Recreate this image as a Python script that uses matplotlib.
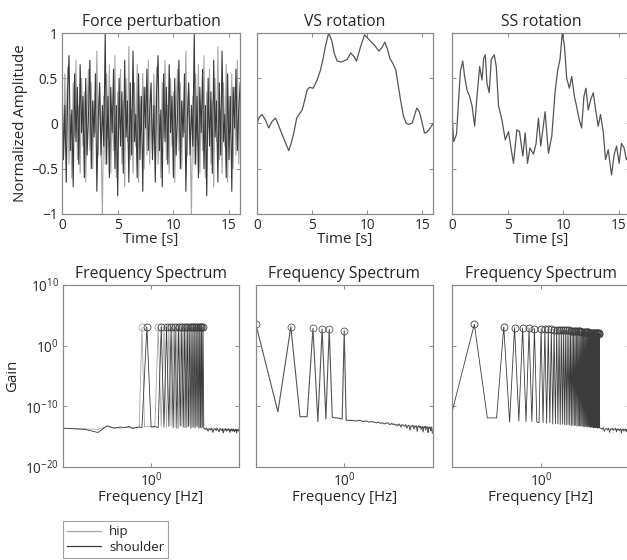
import numpy as np
import matplotlib
matplotlib.use('Agg')
import matplotlib.pyplot as plt
from matplotlib.lines import Line2D

plt.rcParams['font.family'] = ['Open Sans', 'DejaVu Sans']
plt.rcParams['mathtext.fontset'] = 'custom'
plt.rcParams['mathtext.rm'] = 'Open Sans'
plt.rcParams['mathtext.it'] = 'Open Sans:italic'
plt.rcParams['axes.unicode_minus'] = True

# ---------------- data ----------------
series_names = ['hip', 'shoulder']
top_titles = ['Force perturbation', 'VS rotation', 'SS rotation']
bottom_title = 'Frequency Spectrum'
time_ticks = [0, 5, 10, 15]
amp_ticks = [-1, -0.5, 0, 0.5, 1]
amp_ticklabels = ['\u22121', '\u22120.5', '0', '0.5', '1']
gain_ticks = [1e-20, 1e-10, 1e0, 1e10]
gain_ticklabels = [r'$10^{-20}$', r'$10^{-10}$', r'$10^{0}$', r'$10^{10}$']
freq_ticks = [1e0]
freq_ticklabels = [r'$10^{0}$']

# force perturbation: one 8 s period sampled every 0.125 s (signal repeats)
force_dt = 0.125
hip_force_cycle = [0.30, -0.35, 0.55, -0.20, 0.62, -0.45, 0.10, -0.60, 0.45, -0.15,
                   0.70, -0.40, 0.20, -0.55, 0.50, -0.25, 0.35, -0.65, 0.15, 0.60,
                   -0.30, 0.45, -0.50, 0.25, -0.10, 0.80, -0.35, 0.40, -0.20, -1.00,
                   0.30, -0.45, 0.55, -0.15, 0.65, -0.55, 0.20, -0.30, 0.75, -0.60,
                   0.35, -0.05, 0.60, -0.45, 0.25, -0.70, 0.50, -0.20, 0.85, -0.40,
                   0.15, -0.55, 0.45, -0.25, 0.65, -0.65, 0.30, -0.10, 0.55, -0.50,
                   0.40, -0.35, 0.70, -0.45]
shoulder_force_cycle = [0.45, -0.40, 0.20, -0.65, 0.35, 0.75, -0.30, 0.15, -0.70, 0.55,
                        -0.20, 0.40, -0.45, 0.65, -0.10, 0.30, -0.60, 0.50, -0.35, 0.10,
                        0.70, -0.50, 0.25, -0.15, 0.55, -0.75, 0.05, 0.45, -0.35, 0.20,
                        -0.25, 1.00, -0.45, 0.30, -0.60, 0.40, -0.10, 0.60, -0.50, 0.20,
                        -0.80, 0.50, -0.25, 0.35, -0.55, 0.70, -0.15, 0.25, -0.65, 0.45,
                        -0.35, 0.80, -0.20, 0.10, -0.60, 0.55, -0.40, 0.30, -0.75, 0.40,
                        -0.05, 0.60, -0.30, 0.15]
hip_force = hip_force_cycle + hip_force_cycle + hip_force_cycle[:1]
shoulder_force = shoulder_force_cycle + shoulder_force_cycle + shoulder_force_cycle[:1]

vs_time = [0.0, 0.2, 0.45, 0.75, 1.06, 1.35, 1.67, 1.95, 2.27, 2.6, 2.88, 3.1, 3.33,
           3.6, 4.1, 4.35, 4.55, 4.76, 5.1, 5.45, 5.76, 6.0, 6.2, 6.5, 6.8, 7.0, 7.27,
           7.6, 7.88, 8.2, 8.5, 8.8, 9.03, 9.4, 9.76, 10.3, 10.7, 11.06, 11.35, 11.6,
           11.85, 12.06, 12.35, 12.6, 13.03, 13.3, 13.55, 13.8, 14.1, 14.3, 14.5,
           14.7, 14.85, 15.2, 15.4, 15.6, 16.0]
vs_value = [0.0, 0.07, 0.10, 0.04, -0.05, 0.02, 0.06, -0.02, -0.12, -0.22, -0.30,
            -0.22, -0.105, 0.06, 0.15, 0.27, 0.37, 0.40, 0.39, 0.48, 0.59, 0.72, 0.85,
            1.0, 0.91, 0.78, 0.69, 0.68, 0.69, 0.71, 0.78, 0.74, 0.69, 0.85, 0.98,
            0.91, 0.86, 0.80, 0.84, 0.90, 0.82, 0.72, 0.66, 0.59, 0.26, 0.08, 0.0,
            -0.01, 0.006, 0.09, 0.17, 0.14, 0.08, -0.105, -0.10, -0.07, 0.0]

ss_time = [0.0, 0.15, 0.4, 0.75, 0.96, 1.13, 1.34, 1.58, 1.8, 2.03, 2.24, 2.48, 2.69,
           2.84, 2.99, 3.13, 3.34, 3.52, 3.79, 3.97, 4.18, 4.48, 4.78, 5.07, 5.37,
           5.52, 5.82, 6.06, 6.36, 6.57, 6.78, 7.0, 7.31, 7.55, 7.76, 7.97, 8.36,
           8.66, 8.96, 9.25, 9.49, 9.7, 9.9, 10.09, 10.3, 10.54, 10.75, 10.99, 11.19,
           11.43, 11.64, 11.85, 12.03, 12.24, 12.45, 12.69, 12.9, 13.13, 13.34, 13.58,
           13.79, 14.03, 14.33, 14.57, 14.78, 15.01, 15.22, 15.46, 15.67, 16.0]
ss_value = [0.10, -0.20, -0.12, 0.58, 0.69, 0.52, 0.37, 0.30, 0.19, -0.03, 0.30, 0.63,
            0.48, 0.72, 0.76, 0.45, 0.34, 0.71, 0.76, 0.63, 0.19, 0.04, -0.18, -0.09,
            -0.33, -0.44, -0.07, -0.09, -0.36, -0.105, -0.44, -0.27, -0.34, -0.22, 0.06,
            -0.25, 0.13, -0.33, -0.14, 0.34, 0.59, 0.71, 1.0, 0.87, 0.50, 0.39, 0.52,
            0.30, 0.19, 0.04, -0.05, 0.30, 0.39, 0.15, 0.26, 0.34, 0.15, -0.03, 0.10,
            -0.09, -0.40, -0.29, -0.57, -0.34, -0.25, -0.44, -0.22, -0.27, -0.40, -0.30]

# spectra: frequency bins (resolution 1/16 Hz) and log10 gain
freq_resolution = 1.0 / 16.0

hip_peak_bins = [12, 20, 24, 28, 32, 36, 40, 44, 48, 52, 56, 60, 64, 68, 72, 76, 80]
hip_peak_gain = [3.1, 3.1, 3.05, 3.1, 3.1, 3.08, 3.1, 3.1, 3.1, 3.05, 3.1, 3.1, 3.1,
                 3.08, 3.1, 3.1, 3.1]
hip_floor_bins = [1, 2, 3, 4, 5, 6, 7, 8, 9, 10, 11, 13, 16, 18, 22, 26, 30, 34, 38,
                  42, 46, 50, 54, 58, 62, 66, 70, 74, 78, 82,
                  86, 90, 94, 98, 102, 106, 110, 114, 118, 122, 126, 130, 134, 138,
                  142, 146, 150, 154, 158, 162, 166, 170, 174, 178, 182, 186, 190,
                  194, 198, 202, 206, 210, 214, 218, 222, 226, 230, 234, 238, 242,
                  246, 250, 254]
hip_floor_gain = [-13.6, -13.7, -13.8, -13.3, -13.5, -13.6, -13.4, -13.5, -13.7, -13.4,
                  -13.5, -13.4, -13.3, -13.5, -13.3, -13.5, -13.2, -13.4, -13.6, -13.3,
                  -13.5, -13.4, -13.2, -13.5, -13.6, -13.3, -13.4, -13.5, -13.6, -13.5,
                  -13.7, -13.5, -14.0, -13.6, -13.8, -13.5, -14.2, -13.7, -13.6, -13.9,
                  -13.5, -13.8, -14.1, -13.6, -13.7, -13.9, -13.6, -14.3, -13.7, -13.8,
                  -13.6, -14.0, -13.7, -13.9, -13.6, -13.8, -14.2, -13.7, -13.9, -13.6,
                  -14.0, -13.8, -13.7, -14.1, -13.8, -13.9, -13.7, -14.3, -13.8, -13.9,
                  -13.7, -14.0, -13.8]

shoulder_peak_bins = [14, 22, 26, 30, 34, 38, 42, 46, 50, 54, 58, 62, 66, 70, 74, 78, 82]
shoulder_peak_gain = [3.1, 3.1, 3.1, 3.08, 3.1, 3.1, 3.1, 3.05, 3.1, 3.1, 3.1, 3.08,
                      3.1, 3.1, 3.1, 3.1, 3.1]
shoulder_floor_bins = [1, 2, 3, 4, 5, 6, 7, 8, 9, 10, 11, 12, 16, 18, 20, 24, 28, 32, 36,
                       40, 44, 48, 52, 56, 60, 64, 68, 72, 76, 80, 84,
                       88, 92, 96, 100, 104, 108, 112, 116, 120, 124, 128, 132, 136,
                       140, 144, 148, 152, 156, 160, 164, 168, 172, 176, 180, 184, 188,
                       192, 196, 200, 204, 208, 212, 216, 220, 224, 228, 232, 236, 240,
                       244, 248, 252, 256]
shoulder_floor_gain = [-13.6, -13.8, -14.3, -13.2, -13.6, -13.4, -13.5, -13.3, -13.6, -13.5,
                       -13.4, -13.5, -13.4, -13.3, -13.5, -13.4, -13.3, -13.5, -13.6, -13.2,
                       -13.4, -13.5, -13.3, -13.6, -13.4, -13.5, -13.3, -13.6, -13.5, -13.4,
                       -13.6,
                       -13.8, -13.6, -14.1, -13.7, -13.9, -13.6, -14.3, -13.8, -13.7, -14.0,
                       -13.6, -13.9, -14.2, -13.7, -13.8, -14.0, -13.7, -14.4, -13.8, -13.9,
                       -13.7, -14.1, -13.8, -14.0, -13.7, -13.9, -14.3, -13.8, -14.0, -13.7,
                       -14.1, -13.9, -13.8, -14.2, -13.9, -14.0, -13.8, -14.4, -13.9, -14.0,
                       -13.8, -14.1, -13.9]

vs_peak_bins = [1, 3, 6, 8, 10, 16]
vs_peak_gain = [3.57, 3.12, 2.85, 2.74, 2.68, 2.46]
vs_floor_bins = [2, 4, 5, 7, 9, 11, 12, 13, 14, 15, 17, 20, 23, 26, 29, 32, 35, 38, 41,
                 44, 47, 50, 53, 56, 59, 62, 65, 68, 71, 74, 77, 80, 83, 86, 89, 92, 95,
                 98, 102, 106, 110, 114, 118, 122, 126, 130, 134, 138, 142, 146, 150,
                 154, 158, 162, 166, 170, 174, 178, 182, 186, 190, 194, 198, 202, 206,
                 210, 214, 218, 222, 226, 230, 234, 238, 242, 246, 250, 254]
vs_floor_gain = [-10.9, -11.7, -11.7, -12.5, -12.1, -11.8, -11.9, -11.9, -12.0, -12.1,
                 -12.3, -12.3, -12.4, -12.3, -12.5, -12.4, -12.6, -12.5, -12.6, -12.7,
                 -12.6, -12.8, -12.7, -12.9, -12.8, -12.7, -12.9, -13.0, -12.8, -13.0,
                 -12.9, -13.1, -13.0, -13.2, -12.9, -13.1, -13.4, -13.0,
                 -13.1, -13.3, -13.0, -13.6, -13.2, -13.1, -13.9, -13.2, -13.3, -13.1,
                 -13.7, -13.2, -13.4, -13.2, -14.1, -13.3, -13.2, -13.5, -13.3, -13.8,
                 -13.4, -13.3, -14.2, -13.4, -13.5, -13.3, -13.9, -13.4, -13.5, -13.4,
                 -14.3, -13.5, -13.4, -13.6, -13.5, -14.0, -13.4, -13.6, -14.4]

ss_peak_bins = [2, 5, 7, 9, 11, 13, 16, 18, 20, 22, 24, 26, 28, 30, 32, 34, 36, 38, 40,
                42, 44, 46, 48, 50, 52, 54, 56, 58, 60, 62, 64, 66, 68, 70, 72, 74, 76,
                78, 80, 82, 84, 86, 88, 90, 92, 94, 96, 98]
ss_peak_gain = [3.54, 3.12, 3.0, 2.9, 2.85, 2.8, 2.75, 2.73, 2.71, 2.69, 2.67, 2.65,
                2.63, 2.61, 2.59, 2.57, 2.55, 2.52, 2.49, 2.47, 2.45, 2.43, 2.41, 2.39,
                2.37, 2.35, 2.33, 2.31, 2.29, 2.27, 2.25, 2.23, 2.21, 2.19, 2.17, 2.15,
                2.13, 2.12, 2.11, 2.10, 2.09, 2.08, 2.07, 2.06, 2.05, 2.03, 2.02, 2.0]
ss_floor_bins = [1, 3, 4, 6, 8, 10, 12, 14, 15, 17, 19, 21, 23, 25, 27, 29, 31, 33, 35,
                 37, 39, 41, 43, 45, 47, 49, 51, 53, 55, 57, 59, 61, 63, 65, 67, 69, 71,
                 73, 75, 77, 79, 81, 83, 85, 87, 89, 91, 93, 95, 97, 99,
                 103, 107, 111, 115, 119, 123, 127, 131, 135, 139, 143, 147, 151, 155,
                 159, 163, 167, 171, 175, 179, 183, 187, 191, 195, 199, 203, 207, 211,
                 215, 219, 223, 227, 231, 235, 239, 243, 247, 251, 255]
ss_floor_gain = [-10.9, -11.9, -11.9, -12.6, -12.4, -12.5, -12.5, -12.6, -12.7,
                 -12.7, -12.8, -12.7, -12.9, -12.8, -12.9, -13.0, -12.9, -13.0, -13.1,
                 -13.0, -13.1, -13.2, -13.1, -13.2, -13.1, -13.3, -13.2, -13.2, -13.3,
                 -13.2, -13.3, -13.4, -13.3, -13.3, -13.4, -13.3, -13.4, -13.4, -13.5,
                 -13.4, -13.4, -13.5, -13.4, -13.5, -13.5, -13.4, -13.5, -13.6, -13.5,
                 -13.5, -13.6,
                 -13.6, -13.8, -13.5, -14.1, -13.7, -13.6, -13.9, -13.6, -14.3, -13.7,
                 -13.8, -13.6, -14.0, -13.7, -13.8, -13.6, -14.2, -13.7, -13.9, -13.7,
                 -14.0, -13.8, -13.7, -14.4, -13.8, -13.9, -13.7, -14.1, -13.8, -13.9,
                 -13.7, -14.2, -13.8, -14.0, -13.8, -14.3, -13.9, -13.8, -14.1]

# ---------------- style ----------------
hip_color = '#a6a6a6'
shoulder_color = '#3a3a3a'
mono_color = '#555555'
dense_color = '#3c3c3c'
spine_color = '#8a8a8a'
text_color = '#262626'
title_size = 11.3
label_size = 10.8
tick_size = 9.8

fig = plt.figure(figsize=(6.27, 5.6), dpi=100)
top_pos = [[0.099, 0.618, 0.284, 0.323], [0.410, 0.618, 0.281, 0.323],
           [0.721, 0.618, 0.284, 0.323]]
bot_pos = [[0.1005, 0.166, 0.281, 0.325], [0.408, 0.166, 0.282, 0.325],
           [0.721, 0.166, 0.284, 0.325]]


def style(ax):
    for s in ax.spines.values():
        s.set_color(spine_color)
        s.set_linewidth(0.9)
    ax.tick_params(which='both', direction='in', top=True, right=True, length=3,
                   width=0.7, color=spine_color, labelsize=tick_size,
                   labelcolor=text_color, pad=3)


top_axes = [fig.add_axes(p) for p in top_pos]
bot_axes = [fig.add_axes(p) for p in bot_pos]

# top row
force_time = np.arange(len(hip_force)) * force_dt
ax = top_axes[0]
ax.plot(force_time, hip_force, color=hip_color, lw=0.8)
ax.plot(force_time, shoulder_force, color=shoulder_color, lw=0.8)
top_axes[1].plot(vs_time, vs_value, color=mono_color, lw=0.9)
top_axes[2].plot(ss_time, ss_value, color=mono_color, lw=0.9)

for i, ax in enumerate(top_axes):
    style(ax)
    ax.set_xlim(0, 16)
    ax.set_ylim(-1, 1)
    ax.set_xticks(time_ticks)
    ax.set_yticks(amp_ticks)
    if i == 0:
        ax.set_yticklabels(amp_ticklabels)
        ax.set_ylabel('Normalized Amplitude', fontsize=label_size, color=text_color,
                      labelpad=2)
    else:
        ax.set_yticklabels([])
    ax.set_title(top_titles[i], fontsize=title_size, color=text_color, pad=5)
    ax.set_xlabel('Time [s]', fontsize=label_size, color=text_color, labelpad=-1)


def spectrum(ax, peak_bins, peak_gain, floor_bins, floor_gain, color, lw=0.6):
    bins = np.array(list(peak_bins) + list(floor_bins), dtype=float)
    gains = np.array(list(peak_gain) + list(floor_gain), dtype=float)
    order = np.argsort(bins)
    ax.plot(bins[order] * freq_resolution, 10.0 ** gains[order], color=color, lw=lw)
    ax.plot(np.array(peak_bins) * freq_resolution, 10.0 ** np.array(peak_gain),
            linestyle='none', marker='o', markersize=5, markerfacecolor='none',
            markeredgecolor=color, markeredgewidth=0.6)


spectrum(bot_axes[0], hip_peak_bins, hip_peak_gain, hip_floor_bins, hip_floor_gain,
         hip_color)
spectrum(bot_axes[0], shoulder_peak_bins, shoulder_peak_gain, shoulder_floor_bins,
         shoulder_floor_gain, shoulder_color)
spectrum(bot_axes[1], vs_peak_bins, vs_peak_gain, vs_floor_bins, vs_floor_gain,
         mono_color, lw=0.8)
spectrum(bot_axes[2], ss_peak_bins, ss_peak_gain, ss_floor_bins, ss_floor_gain,
         dense_color, lw=0.6)

for i, ax in enumerate(bot_axes):
    ax.set_xscale('log')
    ax.set_yscale('log')
    style(ax)
    ax.set_xlim(freq_resolution, 16)
    ax.set_ylim(1e-20, 1e10)
    ax.set_xticks(freq_ticks)
    ax.set_xticklabels(freq_ticklabels)
    ax.set_yticks(gain_ticks)
    ax.minorticks_off()
    if i == 0:
        ax.set_yticklabels(gain_ticklabels)
        ax.set_ylabel('Gain', fontsize=label_size, color=text_color, labelpad=4)
    else:
        ax.set_yticklabels([])
    ax.set_title(bottom_title, fontsize=title_size, color=text_color, pad=5)
    ax.set_xlabel('Frequency [Hz]', fontsize=label_size, color=text_color, labelpad=0)

handles = [Line2D([], [], color=hip_color, lw=0.9),
           Line2D([], [], color=shoulder_color, lw=0.9)]
leg = fig.legend(handles, series_names, loc='lower left',
                 bbox_to_anchor=(63 / 627, 2 / 560), fontsize=9.5, frameon=True,
                 fancybox=False, handlelength=2.6, borderpad=0.3, labelspacing=0.2,
                 handletextpad=0.6, borderaxespad=0)
leg.get_frame().set_edgecolor(spine_color)
leg.get_frame().set_linewidth(0.8)
for t in leg.get_texts():
    t.set_color(text_color)

fig.savefig('out.png', dpi=100)
